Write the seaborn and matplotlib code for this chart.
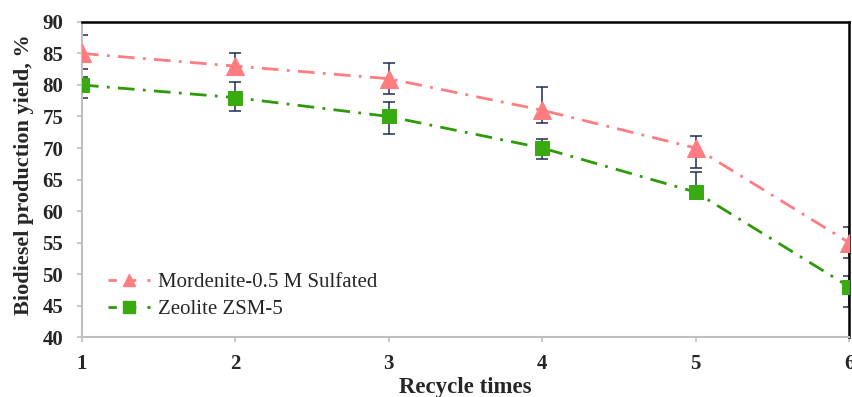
import matplotlib
matplotlib.use("Agg")
import matplotlib.pyplot as plt
import seaborn as sns
import pandas as pd
import numpy as np
from matplotlib.lines import Line2D

recycle = [1, 2, 3, 4, 5, 6]
mordenite = [85, 83, 81, 76, 70, 55]
mordenite_err_low = [2.5, 1.4, 2.5, 2.0, 3.1, 2.4]
mordenite_err_high = [3.0, 2.0, 2.5, 3.7, 1.9, 2.5]
zsm5 = [80, 78, 75, 70, 63, 48]
zsm5_err_low = [2.0, 2.1, 2.8, 1.8, 1.1, 3.2]
zsm5_err_high = [1.3, 2.4, 2.3, 1.5, 3.2, 1.7]
names = ["Mordenite-0.5 M Sulfated", "Zeolite ZSM-5"]
yticks = list(range(40, 91, 5))

sns.set_theme(style="white")
plt.rcParams["font.family"] = ["Liberation Serif", "DejaVu Serif"]

df = pd.DataFrame({
    "x": recycle * 2,
    "y": mordenite + zsm5,
    "series": [names[0]] * 6 + [names[1]] * 6,
})

fig = plt.figure(figsize=(8.52, 3.97), dpi=100)
ax = fig.add_axes([0.0962, 0.1511, 0.9003, 0.7935])

pink = "#FF7C80"
green = "#3AAA12"
greenline = "#2E9A0A"
errc = "#1F2D4F"

ax.errorbar(recycle, mordenite, yerr=[mordenite_err_low, mordenite_err_high],
            fmt="none", ecolor=errc, elinewidth=1.1, capsize=4.5, capthick=1.1, zorder=2)
ax.errorbar(recycle, zsm5, yerr=[zsm5_err_low, zsm5_err_high],
            fmt="none", ecolor=errc, elinewidth=1.1, capsize=4.5, capthick=1.1, zorder=2)

sns.lineplot(data=df, x="x", y="y", hue="series", style="series",
             palette={names[0]: pink, names[1]: greenline},
             markers={names[0]: "^", names[1]: "s"},
             dashes={names[0]: (6, 3, 1, 3), names[1]: (6, 3, 1, 3)},
             linewidth=2, markersize=10, ax=ax, zorder=3, legend=False)
for ln in ax.lines:
    if ln.get_marker() == "^":
        ln.set_markerfacecolor(pink); ln.set_markeredgecolor(pink); ln.set_markersize(13)
    elif ln.get_marker() == "s":
        ln.set_markerfacecolor(green); ln.set_markeredgecolor(green); ln.set_markersize(9.5)

h1 = Line2D([], [], color=pink, linestyle=(0, (3, 4)), linewidth=2, marker="^",
            markersize=9, markerfacecolor=pink, markeredgecolor=pink)
h2 = Line2D([], [], color=greenline, linestyle=(0, (3, 4)), linewidth=2, marker="s",
            markersize=8, markerfacecolor=green, markeredgecolor=green)
ax.legend([h1, h2], names, loc="lower left", bbox_to_anchor=(0.01, -0.003),
          frameon=False, handlelength=2.0, handletextpad=0.4,
          labelspacing=0.35, prop={"family": "Liberation Serif", "size": 15})

ax.set_xlim(1, 6)
ax.set_ylim(40, 90)
ax.set_yticks(yticks)
ax.set_xticks(recycle)
ax.set_xticklabels([str(v) for v in recycle], fontsize=15, fontweight="bold")
ax.set_yticklabels([str(v) for v in yticks], fontsize=15, fontweight="bold")
ax.set_xlabel("Recycle times", fontsize=16.5, fontweight="bold", labelpad=2)
ax.set_ylabel("Biodiesel production yield, %", fontsize=16, fontweight="bold")
ax.yaxis.set_label_coords(-0.0625, 0.515)

for s in ["left", "bottom"]:
    ax.spines[s].set_color("#BFBFBF")
    ax.spines[s].set_linewidth(1.5)
for s in ["top", "right"]:
    ax.spines[s].set_color("black")
    ax.spines[s].set_linewidth(1.8)
ax.tick_params(axis="both", which="major", direction="out", length=3.5, width=1.2,
               color="#BFBFBF", bottom=True, left=True)
ax.tick_params(axis="y", pad=10)
ax.tick_params(axis="x", pad=9)
ax.grid(False)

fig.savefig("out.png", dpi=100)
